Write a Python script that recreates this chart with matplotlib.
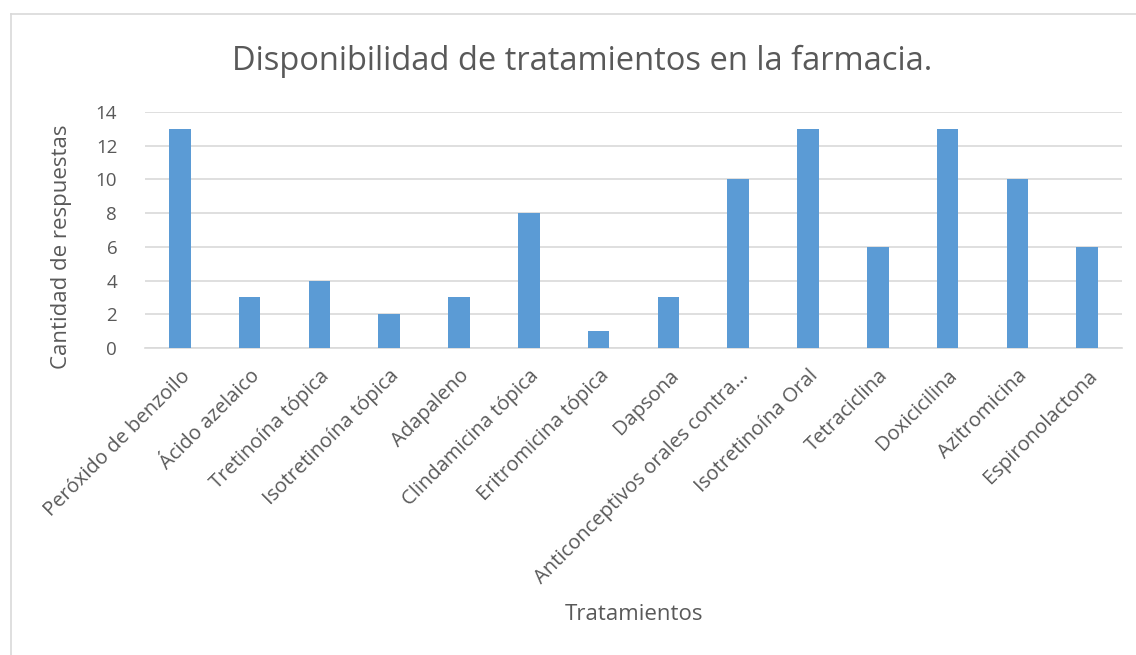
import matplotlib
matplotlib.use("Agg")
import matplotlib.pyplot as plt
from matplotlib.lines import Line2D

tratamientos = ["Peróxido de benzoilo", "Ácido azelaico", "Tretinoína tópica",
                "Isotretinoína tópica", "Adapaleno", "Clindamicina tópica",
                "Eritromicina tópica", "Dapsona", "Anticonceptivos orales contra...",
                "Isotretinoína Oral", "Tetraciclina", "Doxicicilina",
                "Azitromicina", "Espironolactona"]
respuestas = [13, 3, 4, 2, 3, 8, 1, 3, 10, 13, 6, 13, 10, 6]
yticks = [0, 2, 4, 6, 8, 10, 12, 14]

plt.rcParams['font.family'] = ['Open Sans', 'DejaVu Sans']
text_color = "#595959"
grid_color = "#D9D9D9"

fig = plt.figure(figsize=(11.36, 6.55), dpi=100)
ax = fig.add_axes([145 / 1136, 1 - 348 / 655, (1122 - 145) / 1136, (348 - 112) / 655])

x = range(len(tratamientos))
ax.bar(x, respuestas, width=0.31, color="#5B9BD5", zorder=3)

ax.set_xlim(-0.5, len(tratamientos) - 0.5)
ax.set_ylim(0, 14)
ax.set_yticks(yticks)
ax.set_yticklabels([str(v) for v in yticks], fontsize=13.5, color=text_color)
ax.set_xticks(list(x))
ax.set_xticklabels(tratamientos, rotation=45, ha="right", rotation_mode="anchor",
                   fontsize=14.5, color=text_color)
ax.tick_params(axis="both", length=0)
ax.tick_params(axis="x", pad=13)
ax.tick_params(axis="y", pad=20)
ax.yaxis.grid(True, color=grid_color, linewidth=1.2, zorder=0)
for side in ["top", "right", "left"]:
    ax.spines[side].set_visible(False)
ax.spines["bottom"].set_color(grid_color)
ax.spines["bottom"].set_linewidth(1.2)

fig.text(62 / 1136, 1 - 247 / 655, "Cantidad de respuestas", fontsize=16, color=text_color,
         rotation=90, ha="center", va="center")
fig.text(634 / 1136, 1 - 615 / 655, "Tratamientos", fontsize=16, color=text_color,
         ha="center", va="center")
fig.text(582 / 1136, 1 - 61 / 655, "Disponibilidad de tratamientos en la farmacia.",
         fontsize=23.5, color=text_color, ha="center", va="center")

# chart frame (only left and top edges visible in the crop)
fig.add_artist(Line2D([10.5 / 1136, 10.5 / 1136], [0, 1 - 13.5 / 655],
                      transform=fig.transFigure, color=grid_color, linewidth=1.2))
fig.add_artist(Line2D([10.5 / 1136, 1], [1 - 13.5 / 655, 1 - 13.5 / 655],
                      transform=fig.transFigure, color=grid_color, linewidth=1.2))

fig.savefig("out.png", dpi=100)
